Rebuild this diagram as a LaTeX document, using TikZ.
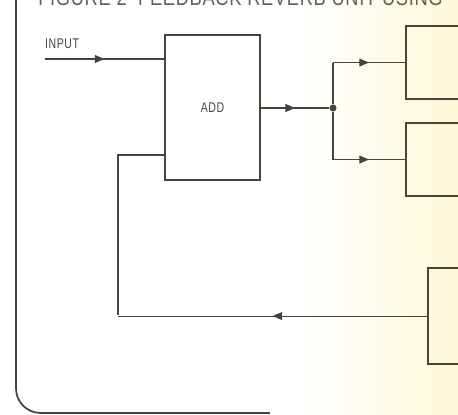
\documentclass[tikz,border=0pt]{standalone}
\usepackage{fontspec}
\usepackage{xcolor}
\usepackage{tikz}
\usetikzlibrary{arrows.meta,positioning,calc,decorations.markings}
\newfontfamily\titlefont[FakeStretch=0.8, LetterSpace=3]{Liberation Sans}
\newfontfamily\labelfont[FakeStretch=0.75, LetterSpace=4]{Liberation Sans}
\definecolor{ink}{HTML}{45463A}
\definecolor{paper}{HTML}{FFF5CC}

\begin{document}
\begin{tikzpicture}[
    x=0.02cm, y=-0.02cm,
    block/.style={rectangle, draw=ink, line width=1.2pt, fill=none, inner sep=0pt},
    label/.style={font=\labelfont\fontsize{8}{9}\selectfont, text=ink, inner sep=1pt},
    wire/.style={draw=ink, line width=0.6pt},
    midarrow/.style={wire, decoration={markings, mark=at position 0.5 with {\arrow{Triangle[length=5.5pt, width=4.5pt]}}}, postaction={decorate}},
    junction/.style={circle, fill=ink, inner sep=0pt, minimum size=4pt}
]
\useasboundingbox (0,0) rectangle (458,415);

% --- PAPER TINT ---
\shade[left color=white, right color=paper] (300,0) rectangle (500,415);

% --- FRAME AND TITLE ---
\draw[ink, line width=1pt, rounded corners=14] (16,-5) -- (16,413) -- (270,413);
\node (title) [anchor=base west, font=\titlefont\fontsize{13}{14}\selectfont, text=ink!85, inner sep=0pt] at (38,6) {FIGURE 2 \ FEEDBACK REVERB UNIT USING};

% --- BLOCKS ---
\node (add)  [block, minimum width=1.9cm, minimum height=2.9cm] at (212.5,107.5) {};
\node (addlabel) [label] at (add.center) {ADD};
\node (tapa) [block, anchor=north west, minimum width=2cm, minimum height=1.46cm] at (405,25) {};
\node (tapb) [block, anchor=north west, minimum width=2cm, minimum height=1.46cm] at (405,122) {};
\node (tapc) [block, anchor=north west, minimum width=2cm, minimum height=1.92cm] at (427,267) {};

% --- INPUT ---
\coordinate (in) at (45,59);
\node (input) [label, anchor=south west] at (43,51) {INPUT};
\draw[midarrow] (in) -- (in -| add.west);

% --- SPLIT TO TAPS ---
\node (split) [junction] at (333,108) {};
\draw[midarrow] (add.east |- split) -- (split);
\draw[wire] (split) -- (split |- tapa.west);
\draw[midarrow] (split |- tapa.west) -- (tapa.west);
\draw[wire] (split) -- (split |- tapb.west);
\draw[midarrow] (split |- tapb.west) -- (tapb.west);

% --- FEEDBACK ---
\coordinate (fb)    at (118,315);
\coordinate (fbtop) at (118,155);
\draw[midarrow] (tapc.west) -- (tapc.west -| fb);
\draw[wire] (fb) -- (fbtop) -- (fbtop -| add.west);

\end{tikzpicture}
\end{document}
